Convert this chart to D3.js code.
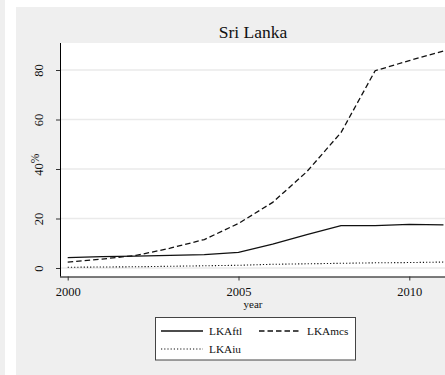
<!DOCTYPE html>
<html><head><meta charset="utf-8">
<script src="https://cdn.jsdelivr.net/npm/d3@7"></script>
<style>body{margin:0;background:#fff}svg{display:block}text{font-family:"Liberation Serif","Times New Roman",serif;fill:#111}</style>
</head><body><svg id="c" width="445" height="375"></svg>
<script>
const years = [2000,2001,2002,2003,2004,2005,2006,2007,2008,2009,2010,2011];
const LKAftl = [4.2,4.6,4.8,5.1,5.4,6.3,9.6,13.5,17.1,17.1,17.6,17.4];
const LKAmcs = [2.4,3.6,5.1,8.0,11.5,18.0,26.5,38.9,54.7,79.7,83.8,87.7];
const LKAiu  = [0.3,0.4,0.5,0.7,0.9,1.1,1.5,1.7,1.9,2.1,2.2,2.4];
const xTicks = [2000,2005,2010];
const yTicks = [0,20,40,60,80];
const seriesNames = ["LKAftl","LKAmcs","LKAiu"];
const dashes = [null,"5.5,3","1.2,2"];
const SERIF = '"Liberation Serif","Times New Roman",serif';

const svg = d3.select("#c");
svg.append("rect").attr("x",0).attr("y",0).attr("width",5).attr("height",375).attr("fill","#efefef");
svg.append("rect").attr("x",16).attr("y",7).attr("width",429).attr("height",368).attr("fill","#efefef");

const L = 60, R = 447, T = 43, B = 276.5;
svg.append("rect").attr("x",L).attr("y",T).attr("width",R-L).attr("height",B-T).attr("fill","#fff");

const x = d3.scaleLinear().domain([2000,2005]).range([67.7,238.5]);
const y = d3.scaleLinear().domain([0,80]).range([268,70]);

svg.append("g").selectAll("line").data(yTicks).join("line")
  .attr("x1",L).attr("x2",R).attr("y1",d=>y(d)).attr("y2",d=>y(d))
  .attr("stroke","#eaeaea").attr("stroke-width",1.5);

const data = [LKAftl,LKAmcs,LKAiu];
const line = d3.line().x((d,i)=>x(years[i])).y(d=>y(d));
data.forEach((s,k)=>{
  svg.append("path").datum(s).attr("d",line).attr("fill","none")
    .attr("stroke","#111").attr("stroke-width",k===2?1.1:1.3)
    .attr("stroke-dasharray",dashes[k]);
});

const yAxis = d3.axisLeft(y).tickValues(yTicks).tickSize(4).tickFormat(d3.format("d"));
const gy = svg.append("g").attr("transform",`translate(${L},0)`).call(yAxis);
gy.attr("font-family",null).attr("font-size",null);
gy.select(".domain").attr("d",`M0.5,${T}V${B}`).attr("stroke","#000");
gy.selectAll(".tick line").attr("stroke","#333");
gy.selectAll(".tick text").attr("x",0).attr("y",0).attr("dy",0)
  .attr("transform","translate(-17.5,0) rotate(-90)")
  .attr("text-anchor","middle").style("font-size","12.5px").style("font-family",SERIF);

const xAxis = d3.axisBottom(x).tickValues(xTicks).tickSize(4).tickFormat(d3.format("d"));
const gx = svg.append("g").attr("transform",`translate(0,${B})`).call(xAxis);
gx.attr("font-family",null).attr("font-size",null);
gx.select(".domain").attr("d",`M${L},0.5H${R}`).attr("stroke","#000");
gx.selectAll(".tick line").attr("stroke","#333");
gx.selectAll(".tick text").attr("y",0).attr("dy",0).attr("transform","translate(0,19.5)")
  .style("font-size","12.5px").style("font-family",SERIF);

svg.append("text").attr("x",253).attr("y",37.5).attr("text-anchor","middle").style("font-size","17.5px").text("Sri Lanka");
svg.append("text").attr("transform","translate(39,158.5) rotate(-90)").attr("text-anchor","middle").style("font-size","11.5px").text("%");
svg.append("text").attr("x",253).attr("y",308).attr("text-anchor","middle").style("font-size","11px").text("year");

const lg = svg.append("g");
lg.append("rect").attr("x",155.5).attr("y",317.5).attr("width",200).attr("height",42.5)
  .attr("fill","#fff").attr("stroke","#444").attr("stroke-width",1);
const pos = [[161,331],[259,331],[161,349]];
seriesNames.forEach((n,k)=>{
  const [px,py] = pos[k];
  lg.append("line").attr("x1",px).attr("x2",px+42).attr("y1",py).attr("y2",py)
    .attr("stroke","#111").attr("stroke-width",k===2?1.1:1.3).attr("stroke-dasharray",dashes[k]);
  lg.append("text").attr("x",px+48).attr("y",py+4).style("font-size","11.3px").text(n);
});
</script></body></html>
